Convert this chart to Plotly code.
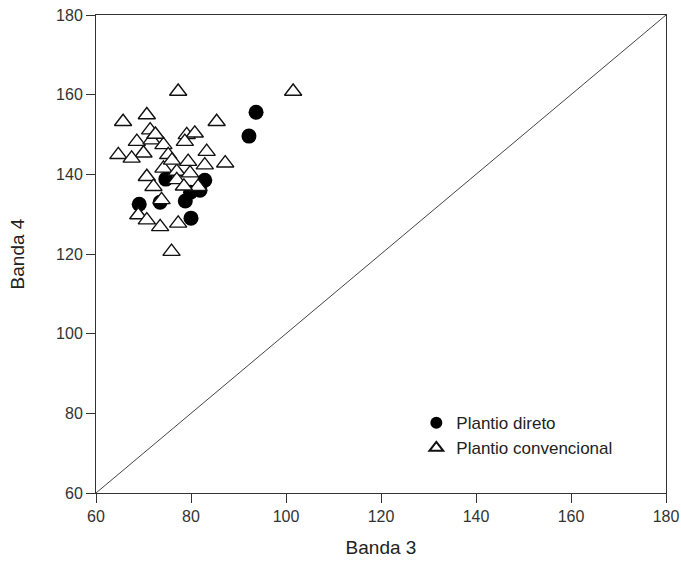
import plotly.graph_objects as go

# Plantio direto (filled circles)
pd_x = [93.7, 92.2, 69.1, 73.5, 78.8, 80.0, 81.9, 82.9, 74.7, 79.9]
pd_y = [155.6, 149.6, 132.5, 133.0, 133.3, 129.0, 136.0, 138.5, 138.8, 135.5]

# Plantio convencional (open triangles)
pc_x = [77.3, 101.5, 70.7, 65.7, 85.4, 71.4, 68.6, 71.7, 79.1, 80.8, 78.7, 74.2,
        70.0, 64.7, 67.5, 75.2, 83.3, 79.4, 87.2, 82.9, 74.2, 77.0, 70.7, 79.8,
        77.0, 72.1, 81.5, 73.8, 68.9, 70.7, 73.5, 77.3, 75.9, 72.5, 76.0, 78.5]
pc_y = [160.8, 160.8, 154.9, 153.2, 153.2, 151.1, 148.2, 148.6, 149.9, 150.3, 148.2, 147.4,
        145.3, 144.9, 144.0, 144.9, 145.7, 143.2, 142.8, 142.3, 141.5, 140.7, 139.4, 140.3,
        138.6, 136.9, 136.9, 133.6, 129.8, 128.5, 126.8, 127.7, 120.6, 150.0, 143.5, 137.0]

line_x = [60, 180]
line_y = [60, 180]

fig = go.Figure()
fig.add_trace(go.Scatter(x=line_x, y=line_y, mode="lines",
                         line=dict(color="#444444", width=1), showlegend=False, hoverinfo="skip"))
fig.add_trace(go.Scatter(x=pd_x, y=pd_y, mode="markers", name="Plantio direto",
                         marker=dict(symbol="circle", size=15, color="black",
                                     line=dict(color="black", width=0))))
fig.add_trace(go.Scatter(x=pc_x, y=pc_y, mode="markers", name="Plantio convencional",
                         marker=dict(symbol="triangle-up", size=15, color="white",
                                     line=dict(color="#111111", width=1.4))))

font = "Liberation Sans, Arial, sans-serif"
axis_common = dict(range=[60, 180], dtick=20, ticks="outside", ticklen=9, tickwidth=1,
                   tickcolor="#333333", showline=True, linecolor="#333333", linewidth=1,
                   mirror=True, showgrid=False, zeroline=False, automargin=False,
                   ticklabeloverflow="allow",
                   tickfont=dict(family=font, size=16, color="#333333"))

fig.update_layout(
    width=681, height=570,
    margin=dict(l=96, r=15, t=15, b=77),
    paper_bgcolor="white", plot_bgcolor="white",
    xaxis=dict(**axis_common, title=dict(text="Banda 3", font=dict(family=font, size=19, color="#222222"), standoff=16)),
    yaxis=dict(**axis_common, title=dict(text="Banda 4", font=dict(family=font, size=19, color="#222222"), standoff=26)),
    legend=dict(x=0.562, y=0.12, xanchor="left", yanchor="middle",
                traceorder="normal", bgcolor="rgba(0,0,0,0)",
                font=dict(family=font, size=17, color="#222222"), itemsizing="constant"),
    showlegend=True,
)

fig.write_html("out.html",
               config={"displayModeBar": False, "staticPlot": True},
               post_script="document.body.style.margin='0';document.body.style.overflow='hidden';"
                           "document.documentElement.style.overflow='hidden';")
